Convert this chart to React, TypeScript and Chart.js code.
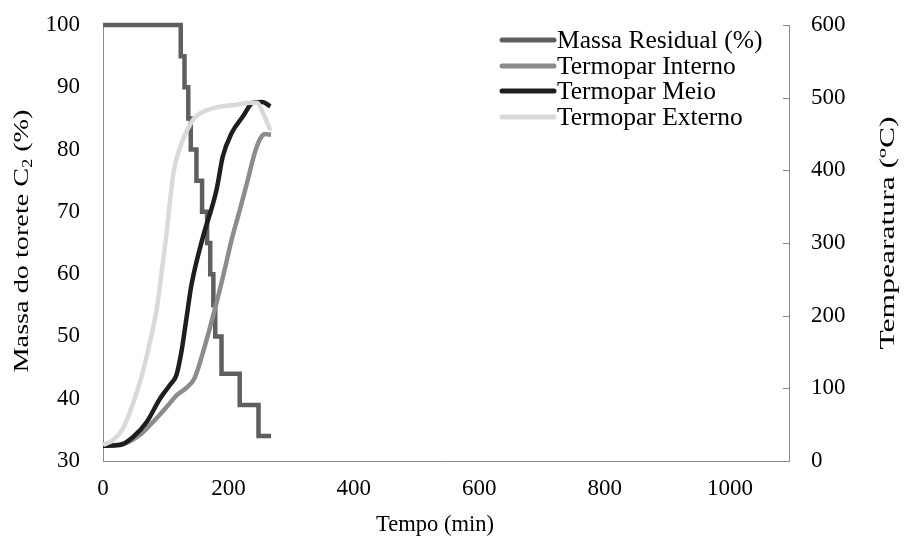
import React, { useEffect, useRef } from "react";
import { Chart, registerables } from "chart.js";
Chart.register(...registerables);

// ---- data ----
const xTickValues = [0, 200, 400, 600, 800, 1000];
const leftTickValues = [30, 40, 50, 60, 70, 80, 90, 100];
const rightTickValues = [0, 100, 200, 300, 400, 500, 600];

const seriesNames = ["Massa Residual (%)", "Termopar Interno", "Termopar Meio", "Termopar Externo"];
const seriesColors = ["#5f5f5f", "#8c8c8c", "#1e1e1e", "#d9d9d9"];

const massaTime = [0, 124, 130, 136, 140, 149, 158, 166, 171, 176, 179, 189, 218, 248, 268];
const massaValue = [100, 95, 90, 85, 80, 75, 70, 65, 60, 55, 50, 44, 39, 34, 34];

const internoTime = [0, 21, 38, 59, 80, 102, 118, 132, 146, 163, 179, 192, 205, 218, 231, 242, 251, 259, 268];
const internoTemp = [21, 22, 25, 36, 54, 75, 91, 100, 114, 160, 211, 256, 304, 345, 387, 424, 444, 450, 449];

const meioTime = [0, 27, 48, 70, 91, 107, 117, 125, 133, 141, 158, 181, 191, 205, 223, 239, 254, 267];
const meioTemp = [21, 22, 33, 54, 86, 105, 118, 150, 196, 242, 304, 373, 419, 451, 474, 493, 494, 488];

const externoTime = [0, 16, 32, 47, 62, 75, 86, 94, 101, 107, 113, 123, 134, 146, 158, 183, 210, 237, 246, 255, 267];
const externoTemp = [22, 29, 45, 77, 118, 164, 211, 263, 311, 359, 400, 432, 455, 472, 480, 487, 490, 493, 493, 479, 455];

const xMin = 0;
const xMax = 1094;

const FONT = "'Liberation Serif', 'Times New Roman', serif";
const AXIS_COLOR = "#8a8a8a";
const TICK_SIZE = 23;
const LEGEND_SIZE = 25.5;

function pts(xs: number[], ys: number[]) {
  return xs.map((x, i) => ({ x, y: ys[i] }));
}

const decorPlugin = {
  id: "decor",
  afterDraw(chart: any) {
    const ctx = chart.ctx as CanvasRenderingContext2D;
    const ca = chart.chartArea;
    ctx.save();
    // inward tick marks on right axis
    const y1 = chart.scales.y1;
    ctx.strokeStyle = AXIS_COLOR;
    ctx.lineWidth = 1;
    rightTickValues.forEach((v) => {
      const py = Math.round(y1.getPixelForValue(v)) + 0.5;
      ctx.beginPath();
      ctx.moveTo(ca.right - 6, py);
      ctx.lineTo(ca.right, py);
      ctx.stroke();
    });

    ctx.fillStyle = "#000";
    // left title with subscript
    ctx.save();
    ctx.translate(22, 241);
    ctx.rotate(-Math.PI / 2);
    const big = `22px ${FONT}`;
    const small = `14px ${FONT}`;
    const p1 = "Massa do torete C";
    const p2 = "2";
    const p3 = " (%)";
    ctx.font = big;
    const w1 = ctx.measureText(p1).width;
    const w3 = ctx.measureText(p3).width;
    ctx.font = small;
    const w2 = ctx.measureText(p2).width;
    const total = w1 + w2 + w3;
    ctx.scale(263 / total, 1);
    let sx = -total / 2;
    ctx.textBaseline = "middle";
    ctx.textAlign = "left";
    ctx.font = big;
    ctx.fillText(p1, sx, 0);
    sx += w1;
    ctx.font = small;
    ctx.fillText(p2, sx, 6);
    sx += w2;
    ctx.font = big;
    ctx.fillText(p3, sx, 0);
    ctx.restore();

    // right title
    ctx.save();
    ctx.translate(888, 233);
    ctx.rotate(-Math.PI / 2);
    ctx.font = big;
    const rt = "Tempearatura (ºC)";
    const rw = ctx.measureText(rt).width;
    ctx.scale(233 / rw, 1);
    ctx.textAlign = "center";
    ctx.textBaseline = "middle";
    ctx.fillText(rt, 0, 0);
    ctx.restore();

    // x title
    ctx.font = `22.5px ${FONT}`;
    ctx.textAlign = "center";
    ctx.textBaseline = "middle";
    ctx.fillText("Tempo (min)", 435, 525);

    // legend
    const rows = [40, 66, 91, 117];
    chart.data.datasets.forEach((ds: any, i: number) => {
      const y = rows[i];
      ctx.strokeStyle = ds.borderColor;
      ctx.lineWidth = 5;
      ctx.lineCap = "round";
      ctx.beginPath();
      ctx.moveTo(502, y);
      ctx.lineTo(554, y);
      ctx.stroke();
      ctx.fillStyle = "#000";
      ctx.textAlign = "left";
      ctx.textBaseline = "middle";
      ctx.font = `${LEGEND_SIZE}px ${FONT}`;
      ctx.fillText(ds.label, 557, y + 1);
    });
    ctx.restore();
  },
};

export default function App() {
  const ref = useRef<HTMLCanvasElement | null>(null);
  useEffect(() => {
    if (!ref.current) return;
    Chart.defaults.font.family = FONT;
    Chart.defaults.font.size = TICK_SIZE;
    Chart.defaults.color = "#000";
    const common = {
      showLine: true,
      pointRadius: 0,
      pointHoverRadius: 0,
      borderWidth: 4.5,
      fill: false,
      clip: false as any,
    };
    const chart = new Chart(ref.current, {
      type: "scatter",
      data: {
        datasets: [
          { ...common, label: seriesNames[0], data: pts(massaTime, massaValue), borderColor: seriesColors[0], backgroundColor: seriesColors[0], yAxisID: "y", stepped: "before", order: 4 },
          { ...common, label: seriesNames[1], data: pts(internoTime, internoTemp), borderColor: seriesColors[1], backgroundColor: seriesColors[1], yAxisID: "y1", cubicInterpolationMode: "monotone", order: 3 },
          { ...common, label: seriesNames[2], data: pts(meioTime, meioTemp), borderColor: seriesColors[2], backgroundColor: seriesColors[2], yAxisID: "y1", cubicInterpolationMode: "monotone", order: 2 },
          { ...common, label: seriesNames[3], data: pts(externoTime, externoTemp), borderColor: seriesColors[3], backgroundColor: seriesColors[3], yAxisID: "y1", cubicInterpolationMode: "monotone", order: 1 },
        ] as any,
      },
      options: {
        animation: false,
        responsive: true,
        maintainAspectRatio: false,
        layout: { padding: { top: 25, left: 0, right: 0, bottom: 0 } },
        plugins: { legend: { display: false }, tooltip: { enabled: false } },
        scales: {
          x: {
            type: "linear",
            min: xMin,
            max: xMax,
            grid: { display: false, drawTicks: false },
            border: { display: true, color: AXIS_COLOR, width: 1 },
            afterBuildTicks: (s: any) => {
              s.ticks = xTickValues.map((v) => ({ value: v }));
            },
            ticks: { padding: 14, maxRotation: 0, autoSkip: false, callback: (v: any) => String(v) },
            afterFit: (s: any) => {
              s.height = 79;
              s.paddingLeft = 0;
              s.paddingRight = 0;
            },
          },
          y: {
            type: "linear",
            position: "left",
            min: 30,
            max: 100,
            grid: { display: false, drawTicks: false },
            border: { display: true, color: AXIS_COLOR, width: 1 },
            afterBuildTicks: (s: any) => {
              s.ticks = leftTickValues.map((v) => ({ value: v }));
            },
            ticks: { padding: 23 },
            afterFit: (s: any) => {
              s.width = 103;
              s.paddingTop = 0;
              s.paddingBottom = 0;
            },
          },
          y1: {
            type: "linear",
            position: "right",
            min: 0,
            max: 600,
            grid: { display: false, drawTicks: false },
            border: { display: true, color: AXIS_COLOR, width: 1 },
            afterBuildTicks: (s: any) => {
              s.ticks = rightTickValues.map((v) => ({ value: v }));
            },
            ticks: { padding: 22 },
            afterFit: (s: any) => {
              s.width = 115;
              s.paddingTop = 0;
              s.paddingBottom = 0;
            },
          },
        },
      } as any,
      plugins: [decorPlugin],
    });
    return () => chart.destroy();
  }, []);
  return (
    <div style={{ position: "fixed", left: 0, top: 0, width: 904, height: 540, background: "#fff" }}>
      <canvas ref={ref} />
    </div>
  );
}
